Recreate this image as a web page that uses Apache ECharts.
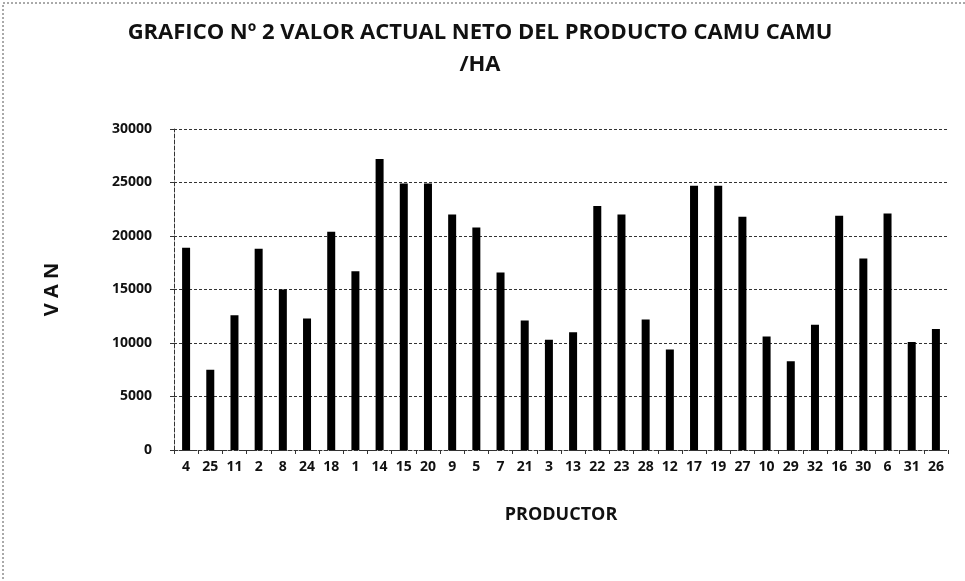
<!DOCTYPE html>
<html><head><meta charset="utf-8">
<script src="https://cdn.jsdelivr.net/npm/echarts@6/dist/echarts.min.js"></script>
<style>html,body{margin:0;padding:0;background:#fff}#c{width:965px;height:581px}</style>
</head><body><div id="c"></div>
<script>
const categories = ['4','25','11','2','8','24','18','1','14','15','20','9','5','7','21','3','13','22','23','28','12','17','19','27','10','29','32','16','30','6','31','26'];
const vanValues = [18900,7500,12600,18800,15000,12300,20400,16700,27200,24900,24900,22000,20800,16600,12100,10300,11000,22800,22000,12200,9400,24700,24700,21800,10600,8300,11700,21900,17900,22100,10100,11300];
const titleText = 'GRAFICO Nº 2 VALOR ACTUAL NETO DEL PRODUCTO CAMU CAMU\n/HA';
const yName = 'V A N';
const xName = 'PRODUCTOR';

const chart = echarts.init(document.getElementById('c'));
const font = 'Open Sans, Liberation Sans, sans-serif';
chart.setOption({
  animation: false,
  backgroundColor: '#fff',
  graphic: [{type:'rect', shape:{x:3,y:3,width:1000,height:600}, style:{fill:'none', stroke:'#555', lineWidth:1, lineDash:[2,2]}}],
  title: {text: titleText, left: 475, top: 12, textAlign: 'center',
    textStyle: {fontFamily: font, fontWeight: 'bold', fontSize: 22, lineHeight: 32, color: '#111'}},
  grid: {left: 174, right: 17, top: 129, bottom: 131, containLabel: false},
  xAxis: {type: 'category', data: categories, name: xName, nameLocation: 'middle', nameGap: 56,
    nameTextStyle: {fontFamily: font, fontWeight: 'bold', fontSize: 18, color: '#111'},
    axisLine: {lineStyle: {color: '#333', type: 'dashed'}},
    axisTick: {show: true, length: 4, lineStyle: {color: '#333'}},
    axisLabel: {interval: 0, fontFamily: font, fontWeight: 'bold', fontSize: 14, color: '#111', margin: 10}},
  yAxis: {type: 'value', min: 0, max: 30000, interval: 5000, name: yName, nameLocation: 'middle', nameGap: 112,
    nameTextStyle: {fontFamily: font, fontWeight: 'bold', fontSize: 20, color: '#111'},
    axisLine: {show: true, lineStyle: {color: '#333', type: 'dashed'}},
    axisTick: {show: true, length: 4, lineStyle: {color: '#333'}},
    axisLabel: {formatter: v => String(v), fontFamily: font, fontSize: 14, fontWeight: 'bold', color: '#111', margin: 22},
    splitLine: {lineStyle: {color: '#333', type: [3,2], width: 1}}},
  series: [{type: 'bar', data: vanValues, barWidth: 8, itemStyle: {color: '#000'}}]
});
</script></body></html>
